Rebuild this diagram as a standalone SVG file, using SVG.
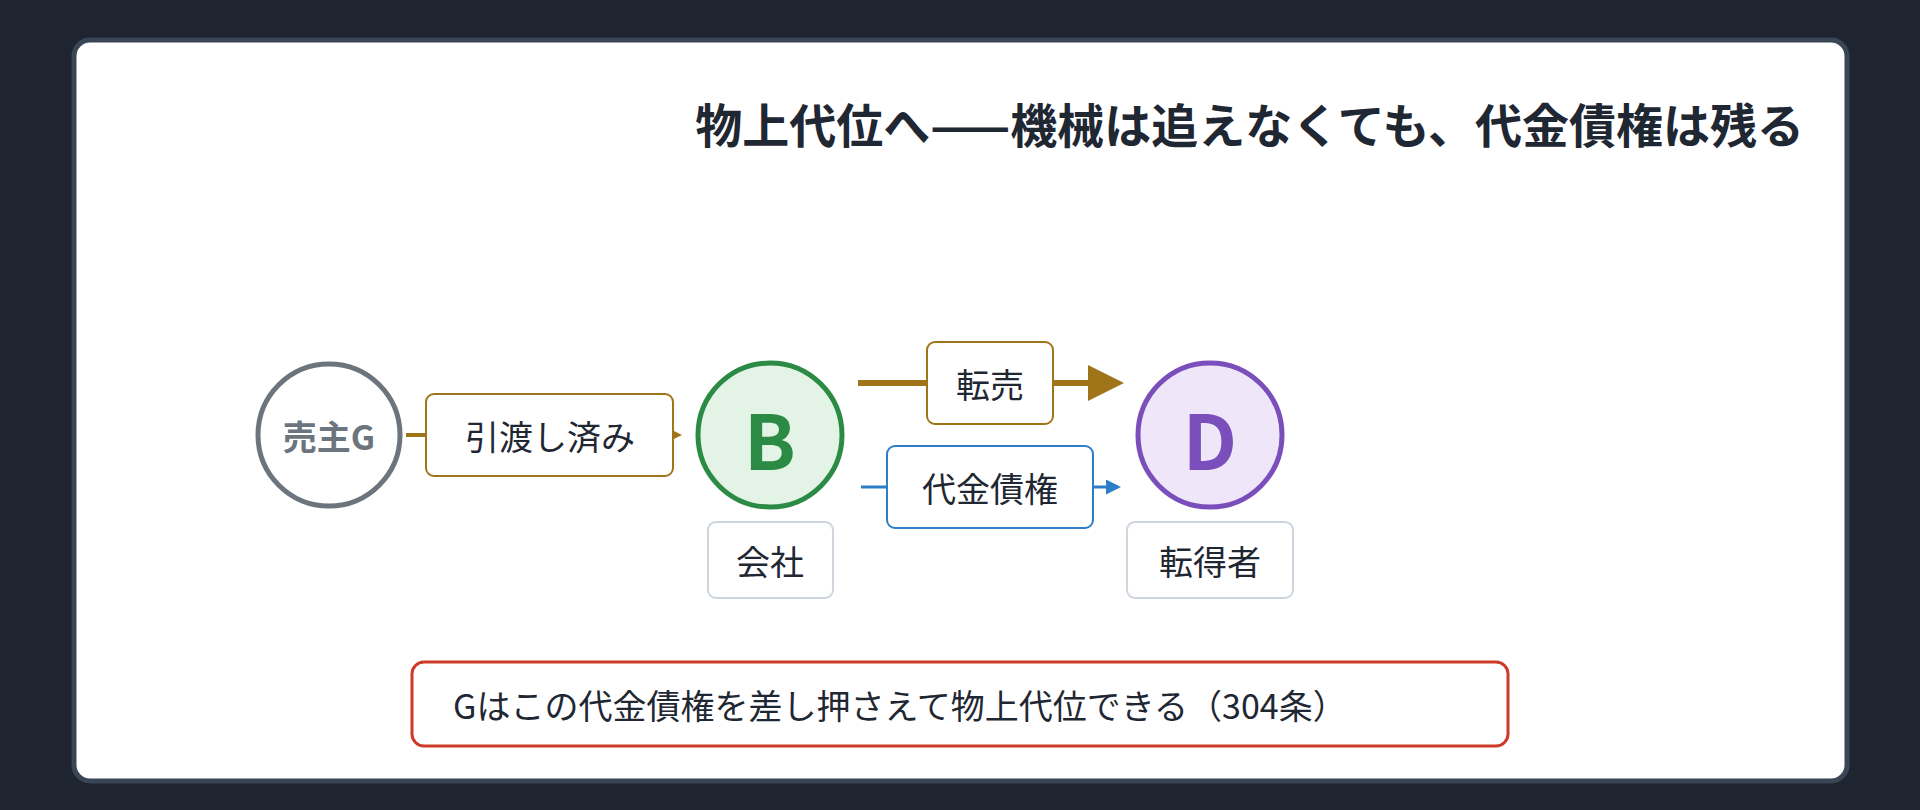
<svg xmlns="http://www.w3.org/2000/svg" width="1920" height="810" viewBox="0 0 1920 810">
<style>
text{font-family:"Noto Sans CJK JP","Noto Sans",sans-serif;fill:#1f2733}
.lbl{fill:#fff;stroke:#cfd5de;stroke-width:2}
.t34{font-size:34px;text-anchor:middle;dominant-baseline:central}
</style>
<defs>
<marker id="ab" markerWidth="6" markerHeight="6" refX="5" refY="3" orient="auto" markerUnits="strokeWidth"><path d="M0,0L6,3L0,6z" fill="#a07418"/></marker>
<marker id="ab2" markerWidth="5" markerHeight="5" refX="4" refY="2.5" orient="auto" markerUnits="strokeWidth"><path d="M0,0L5,2.5L0,5z" fill="#a07418"/></marker>
<marker id="abl" markerWidth="5" markerHeight="5" refX="4" refY="2.5" orient="auto" markerUnits="strokeWidth"><path d="M0,0L5,2.5L0,5z" fill="#2d7ec7"/></marker>
</defs>
<rect width="1920" height="810" fill="#1e2530"/>
<rect x="74" y="40" width="1773" height="741" rx="16" fill="#fff" stroke="#3a4556" stroke-width="5"/>
<text x="1804" y="143" font-size="47" font-weight="bold" text-anchor="end">物上代位へ——機械は追えなくても、代金債権は残る</text>
<g id="connectors">
<line x1="406" y1="435" x2="678" y2="435" stroke="#a07418" stroke-width="4" marker-end="url(#ab2)"/>
<line x1="858" y1="383" x2="1118" y2="383" stroke="#a07418" stroke-width="6" marker-end="url(#ab)"/>
<line x1="861" y1="487" x2="1118" y2="487" stroke="#2d7ec7" stroke-width="3" marker-end="url(#abl)"/>
</g>
<g id="edge-hikiwatashi"><rect x="426" y="394" width="247" height="82" rx="8" fill="#fff" stroke="#a07418" stroke-width="2"/><text class="t34" x="550" y="435">引渡し済み</text></g>
<g id="edge-tenbai"><rect x="927" y="342" width="126" height="82" rx="8" fill="#fff" stroke="#a07418" stroke-width="2"/><text class="t34" x="990" y="383">転売</text></g>
<g id="edge-daikin"><rect x="887" y="446" width="206" height="82" rx="8" fill="#fff" stroke="#2d7ec7" stroke-width="2"/><text class="t34" x="990" y="487">代金債権</text></g>
<g id="node-G"><circle cx="329" cy="435" r="71" fill="#fff" stroke="#6c757d" stroke-width="5"/><text class="t34" x="329" y="435" style="fill:#6c757d" font-weight="bold">売主G</text></g>
<g id="node-B"><circle cx="770" cy="435" r="72" fill="#e3f4e6" stroke="#2b8a44" stroke-width="5"/><text class="t34" x="770" y="437" font-size="76" style="fill:#2b8a44;font-size:76px" font-weight="bold">B</text></g>
<g id="node-D"><circle cx="1210" cy="435" r="72" fill="#efe6fa" stroke="#7b4fbb" stroke-width="5"/><text class="t34" x="1210" y="437" style="fill:#7b4fbb;font-size:76px" font-weight="bold">D</text></g>
<g id="label-kaisha"><rect class="lbl" x="708" y="522" width="125" height="76" rx="8"/><text class="t34" x="770" y="560">会社</text></g>
<g id="label-tentokusha"><rect class="lbl" x="1127" y="522" width="166" height="76" rx="8"/><text class="t34" x="1210" y="560">転得者</text></g>
<g id="note"><rect x="412" y="662" width="1096" height="84" rx="12" fill="#fff" stroke="#cc3a2a" stroke-width="3"/><text x="453" y="704" font-size="34" dominant-baseline="central">Gはこの代金債権を差し押さえて物上代位できる（304条）</text></g>
</svg>
